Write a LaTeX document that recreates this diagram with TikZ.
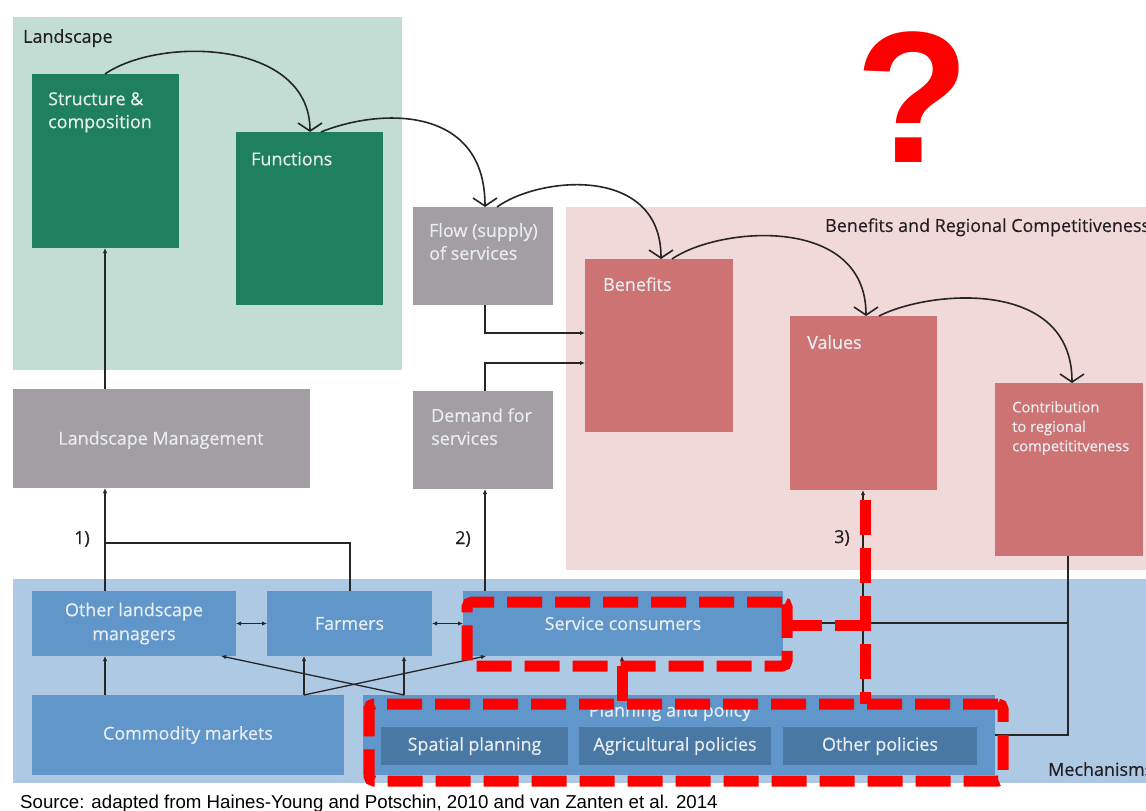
\documentclass[tikz,border=0pt]{standalone}
\usepackage{fontspec}
\setmainfont{Open Sans}[FakeBold=0.4]
\newfontfamily\arialfont{Liberation Sans}
\usetikzlibrary{arrows.meta,calc}
\definecolor{landbg}{HTML}{C2DED4}
\definecolor{dgreen}{HTML}{1F8060}
\definecolor{mgray}{HTML}{A39EA3}
\definecolor{pinkbg}{HTML}{F1D9DA}
\definecolor{rbox}{HTML}{CD7373}
\definecolor{mechbg}{HTML}{AEC9E3}
\definecolor{mblue}{HTML}{6096CA}
\definecolor{dblue}{HTML}{4A78A5}
\definecolor{ltext}{HTML}{E8EEF0}
\definecolor{dtext}{HTML}{231F20}
\definecolor{qred}{HTML}{FF0000}
\newcommand\bx[6]{\node[box,fill=#2,minimum width=#5bp,minimum height=#6bp] (#1) at (#3,#4) {};}
\begin{document}
\begin{tikzpicture}[x=1bp,y=-1bp,
  box/.style={draw=none,inner sep=0,outer sep=0,anchor=north west},
  btext/.style={text=ltext,font=\fontsize{18}{23}\selectfont,inner sep=0,align=left,anchor=north west},
  ctext/.style={text=ltext,font=\fontsize{18}{24}\selectfont,inner sep=0,align=center},
  ttext/.style={text=dtext,font=\fontsize{18}{23}\selectfont,inner sep=0},
  conn/.style={draw=black!85,line width=1.3bp,-{Latex[length=5bp,width=4.5bp]}},
  dconn/.style={draw=black!85,line width=1.3bp,{Latex[length=5bp,width=4.5bp]}-{Latex[length=5bp,width=4.5bp]}},
  plain/.style={draw=black!85,line width=1.3bp},
  curv/.style={draw=black!85,line width=1.6bp,-{Straight Barb[length=8bp,width=24bp]}},
  reddash/.style={draw=qred,line width=11bp,dash pattern=on 35bp off 13bp},
  redrect/.style={draw=qred,line width=11bp,dash pattern=on 35bp off 13bp,rounded corners=5bp,fill=none,inner sep=0,outer sep=0,anchor=north west}
]
\useasboundingbox (0,0) rectangle (1146,811);
% backgrounds
\bx{bgL}{landbg}{13}{17}{389}{353}
\bx{bgB}{pinkbg}{566}{207}{580}{363}
\bx{bgM}{mechbg}{13}{579}{1133}{204}
% boxes
\bx{sc}{dgreen}{32}{74}{147}{174}
\bx{fn}{dgreen}{236}{132}{147}{173}
\bx{flow}{mgray}{413}{207}{140}{98}
\bx{lm}{mgray}{13}{389}{297}{99}
\bx{dem}{mgray}{413}{391}{140}{98}
\bx{ben}{rbox}{585}{259}{148}{173}
\bx{val}{rbox}{790}{316}{147}{174}
\bx{con}{rbox}{995}{383}{148}{173}
\bx{olm}{mblue}{32}{591}{204}{65}
\bx{far}{mblue}{267}{591}{165}{65}
\bx{svc}{mblue}{463}{591}{320}{65}
\bx{com}{mblue}{32}{695}{312}{80}
\bx{pla}{mblue}{363}{695}{632}{80}
\bx{sp}{dblue}{381}{727}{187}{38}
\bx{ag}{dblue}{579}{727}{192}{38}
\bx{op}{dblue}{783}{727}{194}{38}
% texts
\node[ttext,anchor=north west] (tLand) at (23,29) {Landscape};
\node[ttext,anchor=north west] (tBRC) at (825,218) {Benefits and Regional Competitiveness};
\node[ttext,anchor=north west] (tMech) at (1048,762) {Mechanisms};
\node[btext] (tSC) at (48,92) {Structure \&\\composition};
\node[btext] (tFn) at (251,152) {Functions};
\node[btext] (tFlow) at (429,223) {Flow (supply)\\of services};
\node[btext] (tBen) at (603,277) {Benefits};
\node[btext] (tVal) at (807,335) {Values};
\node[btext,font=\fontsize{14.8}{19.5}\selectfont] (tCon) at (1012,401) {Contribution\\to regional\\competititveness};
\node[btext] (tDem) at (431,408) {Demand for\\services};
\node[ctext] (tLM) at (161,440) {Landscape Management};
\node[ctext] (tOLM) at (olm.center) {Other landscape\\managers};
\node[ctext] (tFar) at (far.center) {Farmers};
\node[ctext] (tSvc) at (svc.center) {Service consumers};
\node[ctext] (tCom) at (com.center) {Commodity markets};
\node[ctext] (tPla) at (670,712) {Planning and policy};
\node[ctext] (tSp) at (sp.center) {Spatial planning};
\node[ctext] (tAg) at (ag.center) {Agricultural policies};
\node[ctext] (tOp) at (op.center) {Other policies};
\node[ttext] (n1) at (82,539) {1)};
\node[ttext] (n2) at (463,539) {2)};
\node[ttext] (n3) at (842,538) {3)};
% straight connectors
\coordinate (j1) at (105,543);
\draw[conn] (105,0 |- lm.north) -- (105,0 |- sc.south);
\draw[conn] (105,0 |- olm.north) -- (105,0 |- lm.south);
\draw[plain] (350,0 |- far.north) |- (j1);
\draw[conn] (485,0 |- svc.north) -- (485,0 |- dem.south);
\draw[conn] (485,0 |- flow.south) |- (ben.west |- 0,333);
\draw[conn] (485,0 |- dem.north) |- (ben.west |- 0,363);
\draw[conn] (863,0 |- pla.north) -- (863,0 |- val.south);
\draw[plain] (svc.east |- 0,623) -- (1068,623);
\draw[plain] (1068,0 |- con.south) |- (pla.east |- 0,735);
\draw[dconn] (olm.east) -- (far.west);
\draw[dconn] (far.east) -- (svc.west);
\draw[conn] (105,0 |- com.north) -- (105,0 |- olm.south);
\draw[conn] (622,0 |- pla.north) -- (622,0 |- svc.south);
\draw[conn] (304,0 |- com.north) -- (304,0 |- far.south);
\draw[conn] (304,0 |- com.north) -- (486,0 |- svc.south);
\draw[conn] (404,0 |- pla.north) -- (404,0 |- far.south);
\draw[conn] (404,0 |- pla.north) -- (221,0 |- olm.south);
% curved connectors
\draw[curv] (105,0 |- sc.north) .. controls (160,36) and (310,40) .. (310,0 |- fn.north);
\draw[curv] (321,0 |- fn.north) .. controls (380,108) and (485,105) .. (485,0 |- flow.north);
\draw[curv] (497,0 |- flow.north) .. controls (540,176) and (661,165) .. (661,0 |- ben.north);
\draw[curv] (672,0 |- ben.north) .. controls (720,226) and (866,215) .. (866,0 |- val.north);
\draw[curv] (879,0 |- val.north) .. controls (930,290) and (1072,278) .. (1072,0 |- con.north);
% red overlay
\node[redrect,minimum width=320bp,minimum height=64bp] (rsc) at (467,602) {};
\node[redrect,minimum width=634bp,minimum height=77bp] (rpl) at (369,704) {};
\coordinate (r3) at (865,500);
\draw[reddash] (rsc.east |- 0,625) -- (r3 |- 0,625);
\draw[reddash] (r3) -- (r3 |- rpl.north);
\draw[reddash] (622,0 |- rsc.south) -- (622,0 |- rpl.north);
\node[text=qred,font=\arialfont\bfseries\fontsize{188}{188}\selectfont,inner sep=0] (qm) at (913,97) {?};
\node[font=\arialfont\fontsize{18.75}{20}\selectfont,anchor=base west,inner sep=0] (src) at (20,808) {Source: adapted from Haines-Young and Potschin, 2010 and van Zanten et al. 2014};
\end{tikzpicture}
\end{document}
